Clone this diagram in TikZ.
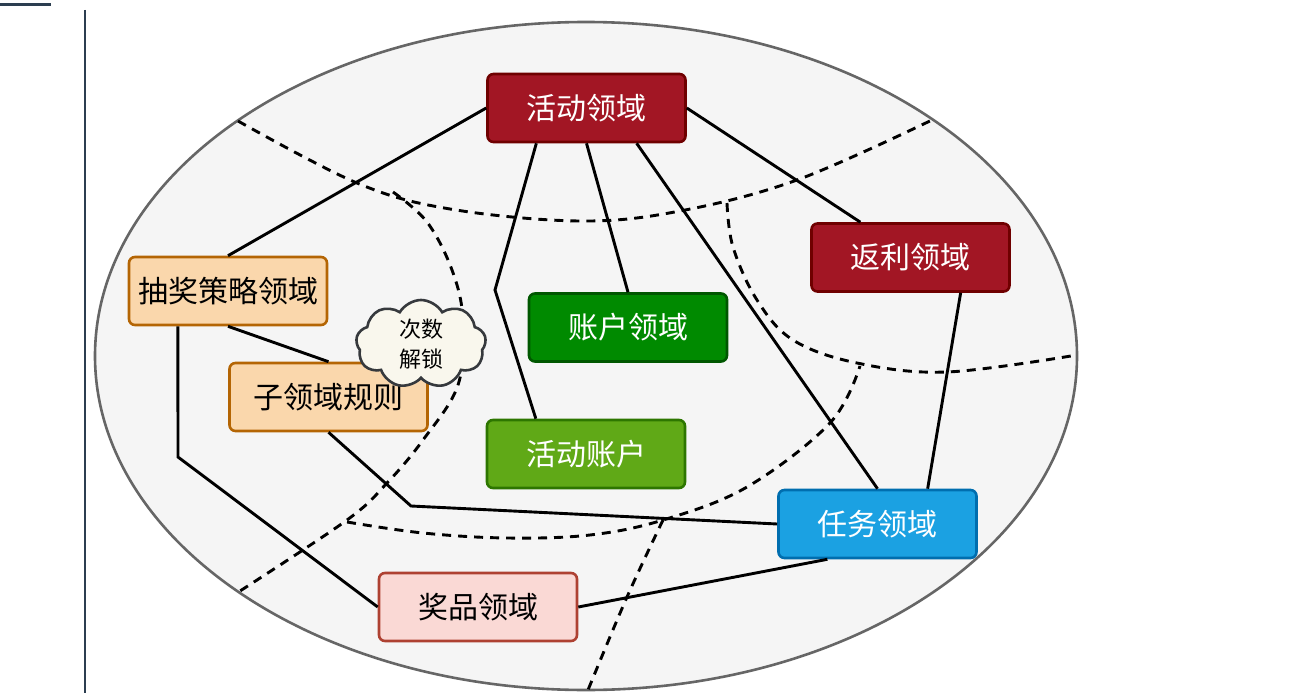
\documentclass[tikz,border=0pt]{standalone}
\usepackage{fontspec}
\newfontfamily\cjk{Noto Sans CJK SC}
\usetikzlibrary{shapes.symbols,calc}
\definecolor{redfill}{HTML}{A21624}
\definecolor{redline}{HTML}{6F0000}
\definecolor{orfill}{HTML}{FAD7AC}
\definecolor{orline}{HTML}{B46504}
\definecolor{gfill}{HTML}{008A00}
\definecolor{gline}{HTML}{005700}
\definecolor{lgfill}{HTML}{60A917}
\definecolor{lgline}{HTML}{2D7600}
\definecolor{bfill}{HTML}{1BA1E2}
\definecolor{bline}{HTML}{006EAF}
\definecolor{pfill}{HTML}{FAD9D5}
\definecolor{pline}{HTML}{AE4132}
\definecolor{cfill}{HTML}{F9F7ED}
\definecolor{cline}{HTML}{36393D}
\definecolor{efill}{HTML}{F5F5F5}
\definecolor{eline}{HTML}{666666}
\definecolor{slate}{HTML}{2C3E50}
\begin{document}
\begin{tikzpicture}[x=1pt,y=-1pt,
  box/.style={rounded corners=6pt, line width=2.6pt, minimum width=198pt, minimum height=68pt,
    inner sep=0pt, font=\cjk\fontsize{30}{34}\selectfont},
  redbox/.style={box, fill=redfill, draw=redline, text=white},
  orbox/.style={box, fill=orfill, draw=orline, text=black},
  greenbox/.style={box, fill=gfill, draw=gline, text=white},
  lgbox/.style={box, fill=lgfill, draw=lgline, text=white},
  bluebox/.style={box, fill=bfill, draw=bline, text=white},
  pinkbox/.style={box, fill=pfill, draw=pline, text=black},
  link/.style={line width=2.9pt, draw=black},
  zone/.style={line width=2.9pt, draw=black, dash pattern=on 9pt off 7pt},
  cloudnote/.style={cloud, cloud puffs=9, cloud puff arc=120, cloud ignores aspect,
    minimum width=130pt, minimum height=88pt, inner sep=0pt, fill=cfill, draw=cline,
    line width=2.6pt, align=center, font=\cjk\fontsize{22}{30}\selectfont}]
\useasboundingbox (0,0) rectangle (1315,693);
\fill[white] (0,0) rectangle (1315,693);
% page decorations
\fill[slate] (0,3.5) rectangle (51,6.5);
\draw[slate, line width=2.5pt] (85,10) -- (85,693);
% domain ellipse
\draw[fill=efill, draw=eline, line width=2.6pt] (586,356) ellipse [x radius=491, y radius=334];
% dashed zone boundaries
\draw[zone] plot[smooth, tension=0.6] coordinates {(238,121) (357,183) (450,209) (580,221) (680,211) (797,180) (932,120)};
\draw[zone] plot[smooth, tension=0.6] coordinates {(393,192) (427,222) (452,270) (463,320) (458,385) (423,440) (387,483) (347,520) (240,591)};
\draw[zone] plot[smooth, tension=0.6] coordinates {(347,522) (423,533) (507,538) (590,535) (663,520) (747,487) (830,423) (860,366)};
\draw[zone] plot[smooth, tension=0.6] coordinates {(727,203) (733,247) (757,300) (793,340) (857,363) (947,372) (1077,355)};
\draw[zone] plot[smooth, tension=0.6] coordinates {(663,520) (627,597) (588,690)};
% nodes
\node[redbox]   (act)   at (586.5,108)  {活动领域};
\node[redbox]   (fanli) at (910.5,257.5) {返利领域};
\node[orbox]    (chou)  at (228,291)    {抽奖策略领域};
\node[orbox]    (zi)    at (328.5,397)  {子领域规则};
\node[greenbox] (zhang) at (628,327.5)  {账户领域};
\node[lgbox]    (hd)    at (586,454)    {活动账户};
\node[bluebox]  (task)  at (877.5,524)  {任务领域};
\node[pinkbox]  (prize) at (478,607)    {奖品领域};
\node[cloudnote] (note) at (421,344)    {次数\\解锁};
% bend points
\coordinate (b1) at (495,290);
\coordinate (b2) at (178,457);
\coordinate (b3) at (411,506);
% connectors
\draw[link] (act.west) -- (chou.north);
\draw[link] ($(act.south west)!0.25!(act.south east)$) -- (b1) -- ($(hd.north west)!0.25!(hd.north east)$);
\draw[link] (act.south) -- (zhang.north);
\draw[link] ($(act.south west)!0.75!(act.south east)$) -- (task.north);
\draw[link] (act.east) -- ($(fanli.north west)!0.25!(fanli.north east)$);
\draw[link] ($(fanli.south west)!0.75!(fanli.south east)$) -- ($(task.north west)!0.75!(task.north east)$);
\draw[link] (chou.south) -- (zi.north);
\draw[link] ($(chou.south west)!0.25!(chou.south east)$) -- (b2) -- (prize.west);
\draw[link] (zi.south) -- (b3) -- (task.west);
\draw[link] (prize.east) -- ($(task.south west)!0.25!(task.south east)$);
\end{tikzpicture}
\end{document}
